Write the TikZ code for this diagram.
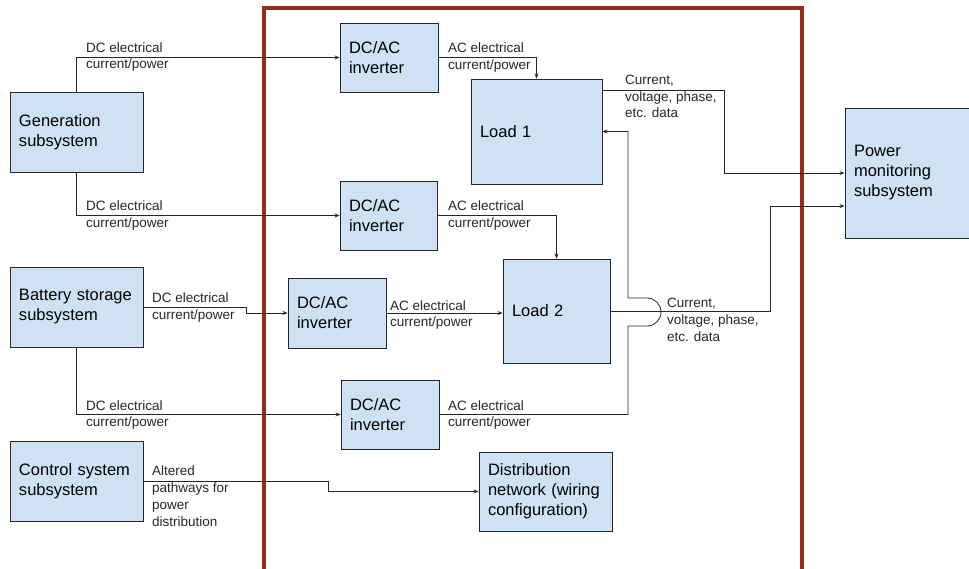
\documentclass[tikz,border=0pt]{standalone}
\usepackage{fontspec}
\setmainfont{Liberation Sans}
\usetikzlibrary{arrows.meta}

\definecolor{boxblue}{HTML}{CFE2F3}
\definecolor{linegray}{HTML}{262626}
\definecolor{framered}{HTML}{9B2B1A}

\begin{document}
\begin{tikzpicture}[x=1pt, y=-1pt, >={Stealth[length=5pt,width=4pt]},
  block/.style={draw=linegray, fill=boxblue, line width=0.9pt, align=left,
    inner xsep=9pt, inner ysep=0pt, font=\fontsize{16.5}{20}\selectfont},
  lbl/.style={anchor=west, align=left, inner sep=0pt, text=linegray,
    font=\fontsize{13.5}{16.8}\selectfont},
  flow/.style={draw=linegray, line width=0.8pt}]
  \useasboundingbox (0,0) rectangle (969,568);

  % site boundary
  \draw[framered, line width=4pt] (264,8) rectangle (802,600);

  % sources
  \node[block, text width=115pt, minimum height=80pt] (gen) at (76.5,132) {Generation\\subsystem};
  \node[block, text width=115pt, minimum height=80pt] (bat) at (76.5,307) {Battery storage\\subsystem};
  \node[block, text width=115pt, minimum height=80pt] (ctrl) at (76.5,481) {Control system\\subsystem};

  % inverters
  \node[block, text width=80pt, minimum height=69pt] (inv1) at (389,57.5) {DC/AC\\inverter};
  \node[block, text width=79pt, minimum height=69pt] (inv2) at (388.5,215.5) {DC/AC\\inverter};
  \node[block, text width=80pt, minimum height=70pt] (inv3) at (337,313) {DC/AC\\inverter};
  \node[block, text width=80pt, minimum height=69pt] (inv4) at (390,414.5) {DC/AC\\inverter};

  % loads etc.
  \node[block, text width=113pt, minimum height=105pt] (load1) at (536.5,131.5) {Load 1};
  \node[block, text width=89pt, minimum height=104pt] (load2) at (556.5,311) {Load 2};
  \node[block, text width=115pt, minimum height=79pt] (dist) at (545.5,491.5) {Distribution\\network (wiring\\configuration)};
  \node[block, text width=107pt, minimum height=130pt] (pm) at (907.5,173) {Power\\monitoring\\subsystem};

  % DC side
  \draw[flow, ->] (gen.north) |- (inv1.west);
  \draw[flow, ->] (gen.south) |- (inv2.west);
  \draw[flow, ->] (bat.east) -- ++(103,0) |- (inv3.west);
  \draw[flow, ->] (bat.south) |- (inv4.west);
  \node[lbl] at (86,57) {DC electrical\\current/power};
  \node[lbl] at (86,215.5) {DC electrical\\current/power};
  \node[lbl] at (152,307.5) {DC electrical\\current/power};
  \node[lbl] at (86,415) {DC electrical\\current/power};

  % AC side
  \draw[flow, ->] (inv1.east) -| (load1.north);
  \draw[flow, ->] (inv2.east) -| (load2.north);
  \draw[flow, ->] (inv3.east) -- (load2.west |- inv3.east);
  \draw[flow, ->] (inv4.east) -| (628,326) -- (647,326)
    arc[start angle=90, end angle=-90, radius=14] -- (628,298) |- (load1.east);
  \node[lbl] at (448,57.5) {AC electrical\\current/power};
  \node[lbl] at (448,215.5) {AC electrical\\current/power};
  \node[lbl] at (390,315) {AC electrical\\current/power};
  \node[lbl] at (448,415) {AC electrical\\current/power};

  % monitoring data
  \draw[flow, ->] ([yshift=41.5pt]load1.east) -- ++(122,0) |- (pm.west);
  \draw[flow, ->] (load2.east) -- ++(160,0) |- ([yshift=-33pt]pm.west);
  \node[lbl] at (625,96.5) {Current,\\voltage, phase,\\etc. data};
  \node[lbl] at (667,320) {Current,\\voltage, phase,\\etc. data};

  % control
  \draw[flow, ->] (ctrl.east) -- ++(185,0) |- (dist.west);
  \node[lbl] at (152,496) {Altered\\pathways for\\power\\distribution};
\end{tikzpicture}
\end{document}
